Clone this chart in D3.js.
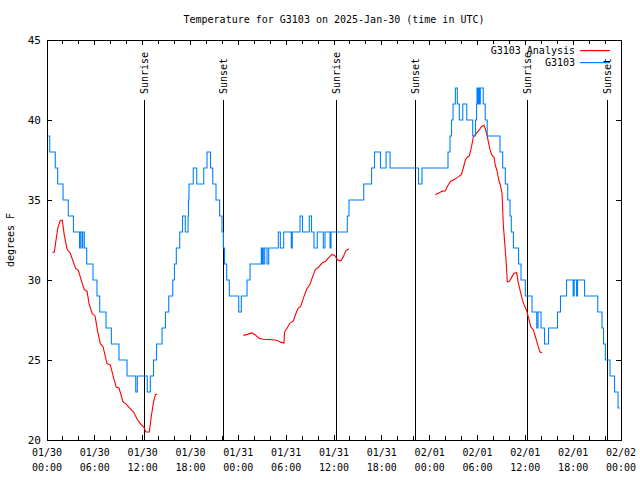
<!DOCTYPE html>
<html><head><meta charset="utf-8">
<script src="https://cdn.jsdelivr.net/npm/d3@7"></script>
<style>
body{margin:0;background:#fff;}
text{font-family:"DejaVu Sans Mono","Liberation Mono",monospace;font-size:10px;fill:#000;}
</style></head>
<body><svg id="c" width="640" height="480"></svg>
<script>
const title = "Temperature for G3103 on 2025-Jan-30 (time in UTC)";
const yLabel = "degrees F";
const yTicks = [20, 25, 30, 35, 40, 45];
const xTickHours = [0, 6, 12, 18, 24, 30, 36, 42, 48, 54, 60, 66, 72];
const xTickDates = ["01/30","01/30","01/30","01/30","01/31","01/31","01/31","01/31","02/01","02/01","02/01","02/01","02/02"];
const xTickTimes = ["00:00","06:00","12:00","18:00","00:00","06:00","12:00","18:00","00:00","06:00","12:00","18:00","00:00"];
const sunHours = [12.21, 22.12, 36.29, 46.2, 60.25, 70.29];
const sunLabels = ["Sunrise","Sunset","Sunrise","Sunset","Sunrise","Sunset"];
const seriesNames = ["G3103 Analysis", "G3103"];

// observed G3103 (hours since 01/30 00:00 UTC, degF; value holds until next entry)
const obsHours = [0.16,0.34,1.04,1.34,2.01,2.67,3.32,4.08,4.18,4.39,4.48,4.68,4.98,5.77,6.27,6.61,7.40,8.07,9.03,10.04,11.13,11.33,12.58,12.96,13.36,13.74,14.43,14.86,15.27,15.77,15.99,16.22,16.65,17.0,17.35,17.69,17.75,17.81,18.35,18.78,19.66,20.07,20.51,20.79,21.20,21.66,21.95,22.12,22.27,22.54,22.87,24.05,24.37,25.09,25.47,26.88,26.97,27.06,27.13,27.31,27.6,27.81,29.01,29.27,29.69,30.64,30.77,31.74,32.05,32.9,33.18,33.49,33.9,34.66,34.87,35.5,35.63,37.67,37.88,39.73,40.71,41.08,41.83,42.53,43.03,46.6,47.04,50.3,50.55,50.74,50.93,51.22,51.47,51.72,52.15,52.65,53.4,53.75,53.88,53.94,54.07,54.15,54.25,54.35,54.72,54.97,55.22,56.82,57.16,57.49,57.79,58.08,58.24,58.5,59.15,59.46,60.0,60.84,61.43,61.59,61.97,62.41,62.91,64.04,64.41,65.17,66.0,66.13,66.43,66.55,67.43,69.08,69.62,69.81,70.04,70.62,71.19,71.63,71.88];
const obsTemps = [39,38,37,36,35,34,33,32,33,32,33,32,31,30,29,28,27,26,25,24,23,24,23,24,25,26,27,28,29,30,31,32,33,34,33,34,35,36,37,36,37,38,37,36,35,34,33,32,31,30,29,28,29,30,31,32,31,32,31,32,31,32,33,32,33,32,33,34,33,34,33,32,33,32,33,32,33,34,35,36,37,38,37,38,37,36,37,38,39,40,41,42,41,40,41,40,39,40,41,42,41,42,41,42,41,40,39,38,37,36,35,34,33,32,31,30,29,28,27,28,27,26,27,28,29,30,29,30,29,30,29,28,27,26,25,24,23,22,22];

// analysis (null = gap)
const anaHours = [0.66,0.92,1.13,1.38,1.67,1.92,2.17,2.51,2.92,3.26,3.6,3.93,4.35,4.68,5.02,5.27,5.68,6.02,6.36,6.69,7.02,7.53,7.94,8.28,8.69,9.03,9.53,9.95,10.45,10.88,11.29,11.7,12.13,12.42,12.83,13.08,13.33,13.59,13.84,
 18.0,
 24.62,25.13,25.72,26.05,26.63,27.13,28.14,28.81,29.39,29.73,29.79,30.14,30.48,30.9,31.15,31.49,31.82,32.15,32.58,32.99,33.33,33.66,34.08,34.5,34.91,35.34,35.75,36.09,36.42,36.84,37.17,37.51,37.85,
 42.0,
 48.71,49.21,49.55,49.96,50.3,50.64,51.14,51.64,51.97,52.22,52.47,52.72,52.97,53.22,53.48,53.81,54.15,54.48,54.82,54.98,55.23,55.57,55.82,56.07,56.24,56.49,56.66,56.83,57.08,57.24,57.42,57.58,57.74,57.99,58.33,58.58,58.92,59.08,59.33,59.59,59.84,60.17,60.43,60.68,61.0,61.34,61.59,61.84,62.09];
const anaTemps = [31.73,31.73,32.5,33.3,33.73,33.73,32.81,31.94,31.67,31.19,30.73,30.6,29.9,29.4,29.3,28.52,27.9,27.77,26.77,26.02,25.85,24.77,24.69,24.02,23.31,23.25,22.4,22.23,21.94,21.73,21.31,21.02,20.81,20.5,20.5,21.46,22.29,22.83,22.87,
 null,
 26.54,26.6,26.69,26.6,26.35,26.3,26.27,26.23,26.1,26.06,26.73,27.02,27.31,27.44,27.81,28.23,28.35,28.85,29.44,29.73,30.23,30.65,30.81,31.06,31.15,31.4,31.6,31.54,31.27,31.19,31.46,31.85,31.94,
 null,
 35.33,35.46,35.54,35.58,35.92,36.17,36.29,36.46,36.58,37.0,37.5,37.67,37.75,38.25,38.96,39.13,39.33,39.58,39.67,39.46,38.96,38.13,37.79,37.67,37.17,36.75,36.25,36.0,35.42,33.42,32.29,31.25,29.88,29.9,30.21,30.42,30.46,29.92,29.38,28.83,28.46,28.08,27.58,27.08,26.88,26.33,25.88,25.5,25.46];

const svg = d3.select("#c");
const L = 47, R = 621, T = 40, B = 440;
const x = d3.scaleLinear().domain([0, 72]).range([L, R]);
const y = d3.scaleLinear().domain([20, 45]).range([B, T]);
const blue = "#0080ff", red = "#ff0000";

// title
svg.append("text").attr("x", (L + R) / 2).attr("y", 23).attr("text-anchor", "middle").text(title);
// y label
svg.append("text").attr("transform", `translate(14,${(T + B) / 2}) rotate(-90)`).attr("text-anchor", "middle").text(yLabel);

const g = svg.append("g").attr("shape-rendering", "crispEdges");
// ticks (inward, all four sides)
const minor = d3.range(0, 73, 2);
minor.forEach(h => {
  const len = (h % 6 === 0) ? 5 : 4;
  g.append("line").attr("x1", x(h)).attr("x2", x(h)).attr("y1", B).attr("y2", B - len).attr("stroke", "#000");
  g.append("line").attr("x1", x(h)).attr("x2", x(h)).attr("y1", T).attr("y2", T + len).attr("stroke", "#000");
});
yTicks.forEach(v => {
  g.append("line").attr("x1", L).attr("x2", L + 5).attr("y1", y(v)).attr("y2", y(v)).attr("stroke", "#000");
  g.append("line").attr("x1", R).attr("x2", R - 5).attr("y1", y(v)).attr("y2", y(v)).attr("stroke", "#000");
  svg.append("text").attr("x", L - 6).attr("y", y(v) + 4).attr("text-anchor", "end").style("font-size", "11px").text(v);
});
xTickHours.forEach((h, i) => {
  const t = svg.append("text").attr("x", x(h)).attr("y", B + 16).attr("text-anchor", "middle");
  t.append("tspan").attr("x", x(h)).text(xTickDates[i]);
  t.append("tspan").attr("x", x(h)).attr("dy", 15).text(xTickTimes[i]);
});

// sunrise/sunset lines
sunHours.forEach((h, i) => {
  g.append("line").attr("x1", x(h)).attr("x2", x(h)).attr("y1", 100).attr("y2", B).attr("stroke", "#000");
  svg.append("text").attr("transform", `translate(${x(h) + 4},94) rotate(-90)`).attr("text-anchor", "start").text(sunLabels[i]);
});

// analysis line
const anaData = anaHours.map((h, i) => ({h, v: anaTemps[i]}));
svg.append("path").datum(anaData)
  .attr("fill", "none").attr("stroke", red).attr("stroke-width", 1.1)
  .attr("d", d3.line().defined(d => d.v !== null).x(d => x(d.h)).y(d => y(d.v)));

// observed line
const obsData = obsHours.map((h, i) => ({h, v: obsTemps[i]}));
svg.append("path").datum(obsData)
  .attr("fill", "none").attr("stroke", blue).attr("stroke-width", 1.1)
  .attr("d", d3.line().curve(d3.curveStepAfter).x(d => x(d.h)).y(d => y(d.v)));

// frame
g.append("rect").attr("x", L).attr("y", T).attr("width", R - L).attr("height", B - T).attr("fill", "none").attr("stroke", "#000");

// legend
const legendItems = [{name: seriesNames[0], color: red, ly: 50.5}, {name: seriesNames[1], color: blue, ly: 62.5}];
legendItems.forEach(it => {
  svg.append("text").attr("x", 575).attr("y", it.ly + 3.5).attr("text-anchor", "end").text(it.name);
  svg.append("rect").attr("x", 580).attr("y", it.ly - 0.5).attr("width", 30).attr("height", 1.2).attr("fill", it.color);
});
</script></body></html>
